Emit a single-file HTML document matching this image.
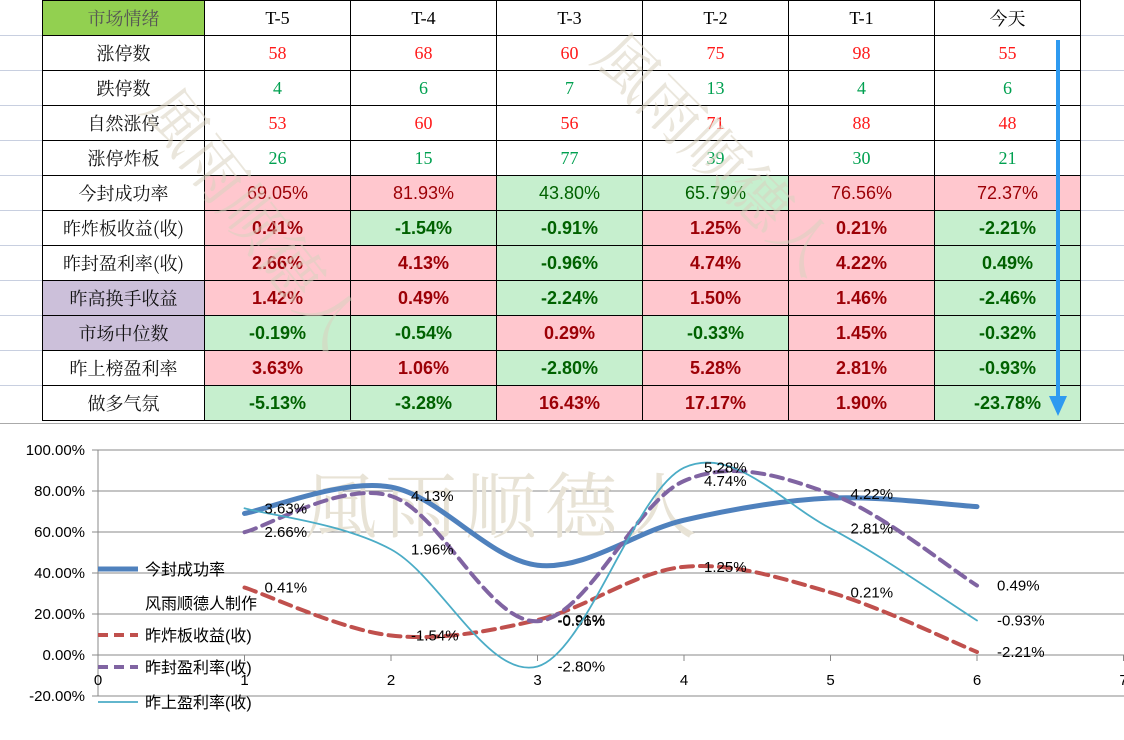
<!DOCTYPE html>
<html><head><meta charset="utf-8">
<style>
html,body{margin:0;padding:0;background:#fff;width:1124px;height:740px;overflow:hidden;position:relative;font-family:"Liberation Sans","Noto Sans CJK SC",sans-serif;}
.grid{position:absolute;left:0;top:0;width:1124px;height:425px;}
table{position:absolute;left:42px;top:0;border-collapse:collapse;table-layout:fixed;}
td{border:1px solid #000;height:34px;padding:0;text-align:center;font-size:18px;}
td.lab{width:161px;font-family:"Noto Serif CJK SC","Noto Sans CJK SC",serif;color:#111;}
td.v{width:145px;font-family:"Liberation Serif","Noto Serif CJK SC",serif;}
.r{color:#ff1a1a}.g{color:#00a050}
.p{background:#ffc7ce;color:#9c0006}.q{background:#c6efce;color:#006100}
.b{font-weight:bold;font-family:"Liberation Sans",sans-serif !important;}
.n{font-family:"Liberation Sans",sans-serif !important;}
.pur{background:#ccc0da}
</style></head><body>
<svg class="grid" width="1124" height="425">
<g stroke="#c8cfe0" stroke-width="1">
<line x1="0" y1="35.5" x2="42" y2="35.5"/><line x1="0" y1="70.5" x2="42" y2="70.5"/><line x1="0" y1="105.5" x2="42" y2="105.5"/><line x1="0" y1="140.5" x2="42" y2="140.5"/><line x1="0" y1="175.5" x2="42" y2="175.5"/><line x1="0" y1="210.5" x2="42" y2="210.5"/><line x1="0" y1="245.5" x2="42" y2="245.5"/><line x1="0" y1="280.5" x2="42" y2="280.5"/><line x1="0" y1="315.5" x2="42" y2="315.5"/><line x1="0" y1="350.5" x2="42" y2="350.5"/><line x1="0" y1="385.5" x2="42" y2="385.5"/>
<line x1="1080" y1="35.5" x2="1124" y2="35.5"/><line x1="1080" y1="70.5" x2="1124" y2="70.5"/><line x1="1080" y1="105.5" x2="1124" y2="105.5"/><line x1="1080" y1="140.5" x2="1124" y2="140.5"/><line x1="1080" y1="175.5" x2="1124" y2="175.5"/><line x1="1080" y1="210.5" x2="1124" y2="210.5"/><line x1="1080" y1="245.5" x2="1124" y2="245.5"/><line x1="1080" y1="280.5" x2="1124" y2="280.5"/><line x1="1080" y1="315.5" x2="1124" y2="315.5"/><line x1="1080" y1="350.5" x2="1124" y2="350.5"/><line x1="1080" y1="385.5" x2="1124" y2="385.5"/>
</g></svg>
<table>
<tr><td class="lab" style="background:#92d050;color:#555">市场情绪</td><td class="v">T-5</td><td class="v">T-4</td><td class="v">T-3</td><td class="v">T-2</td><td class="v">T-1</td><td class="v" style="font-family:'Noto Serif CJK SC',serif">今天</td></tr>
<tr><td class="lab">涨停数</td><td class="v r">58</td><td class="v r">68</td><td class="v r">60</td><td class="v r">75</td><td class="v r">98</td><td class="v r">55</td></tr>
<tr><td class="lab">跌停数</td><td class="v g">4</td><td class="v g">6</td><td class="v g">7</td><td class="v g">13</td><td class="v g">4</td><td class="v g">6</td></tr>
<tr><td class="lab">自然涨停</td><td class="v r">53</td><td class="v r">60</td><td class="v r">56</td><td class="v r">71</td><td class="v r">88</td><td class="v r">48</td></tr>
<tr><td class="lab">涨停炸板</td><td class="v g">26</td><td class="v g">15</td><td class="v g">77</td><td class="v g">39</td><td class="v g">30</td><td class="v g">21</td></tr>
<tr><td class="lab">今封成功率</td><td class="v p n">69.05%</td><td class="v p n">81.93%</td><td class="v q n">43.80%</td><td class="v q n">65.79%</td><td class="v p n">76.56%</td><td class="v p n">72.37%</td></tr>
<tr><td class="lab">昨炸板收益(收)</td><td class="v p b">0.41%</td><td class="v q b">-1.54%</td><td class="v q b">-0.91%</td><td class="v p b">1.25%</td><td class="v p b">0.21%</td><td class="v q b">-2.21%</td></tr>
<tr><td class="lab">昨封盈利率(收)</td><td class="v p b">2.66%</td><td class="v p b">4.13%</td><td class="v q b">-0.96%</td><td class="v p b">4.74%</td><td class="v p b">4.22%</td><td class="v q b">0.49%</td></tr>
<tr><td class="lab pur">昨高换手收益</td><td class="v p b">1.42%</td><td class="v p b">0.49%</td><td class="v q b">-2.24%</td><td class="v p b">1.50%</td><td class="v p b">1.46%</td><td class="v q b">-2.46%</td></tr>
<tr><td class="lab pur">市场中位数</td><td class="v q b">-0.19%</td><td class="v q b">-0.54%</td><td class="v p b">0.29%</td><td class="v q b">-0.33%</td><td class="v p b">1.45%</td><td class="v q b">-0.32%</td></tr>
<tr><td class="lab">昨上榜盈利率</td><td class="v p b">3.63%</td><td class="v p b">1.06%</td><td class="v q b">-2.80%</td><td class="v p b">5.28%</td><td class="v p b">2.81%</td><td class="v q b">-0.93%</td></tr>
<tr><td class="lab">做多气氛</td><td class="v q b">-5.13%</td><td class="v q b">-3.28%</td><td class="v p b">16.43%</td><td class="v p b">17.17%</td><td class="v p b">1.90%</td><td class="v q b">-23.78%</td></tr>
</table>
<svg style="position:absolute;left:0;top:0" width="1124" height="425">
<text x="140" y="110" transform="rotate(52 140 110)" font-size="62" fill="#d8d2c0" fill-opacity="0.55" font-family="Noto Serif CJK SC,serif">風雨顺德人</text>
<text x="590" y="60" transform="rotate(45 590 60)" font-size="62" fill="#d8d2c0" fill-opacity="0.55" font-family="Noto Serif CJK SC,serif">風雨顺德人</text>
<line x1="1058" y1="40" x2="1058" y2="398" stroke="#2e9af0" stroke-width="4"/>
<polygon points="1049,396 1067,396 1058,416" fill="#2e9af0"/>
</svg>
<svg id="chart" style="position:absolute;left:0;top:0" width="1124" height="740"></svg>
<script>
const xTicks=[0,1,2,3,4,5,6,7];
const yTicks=[-20,0,20,40,60,80,100];
const sealRate=[69.05,81.93,43.80,65.79,76.56,72.37];
const brokenReturn=[0.41,-1.54,-0.91,1.25,0.21,-2.21];
const sealedProfit=[2.66,4.13,-0.96,4.74,4.22,0.49];
const listProfit=[3.63,1.96,-2.80,5.28,2.81,-0.93];
const NS='http://www.w3.org/2000/svg';
const svg=document.getElementById('chart');
const X=v=>98+v*146.5, Y=v=>655-v*2.05, S=v=>v*12+28;
function mk(t,a,p){const e=document.createElementNS(NS,t);for(const k in a)e.setAttribute(k,a[k]);(p||svg).appendChild(e);return e;}
mk('rect',{x:0,y:424,width:1124,height:316,fill:'#fff'});
mk('line',{x1:0,y1:423.5,x2:1124,y2:423.5,stroke:'#aaa'});
yTicks.forEach(t=>{mk('line',{x1:92,x2:1124,y1:Y(t),y2:Y(t),stroke:'#888','stroke-width':1});
const tx=mk('text',{x:85,y:Y(t)+5,'text-anchor':'end','font-size':15,fill:'#000'});tx.textContent=t.toFixed(2)+'%';

});
mk('line',{x1:98,x2:98,y1:Y(100),y2:Y(-20),stroke:'#888'});
xTicks.forEach(t=>{mk('line',{x1:X(t),x2:X(t),y1:Y(0),y2:Y(0)+6,stroke:'#888'});
const tx=mk('text',{x:X(t),y:685,'text-anchor':'middle','font-size':15});tx.textContent=t;

});
const wm=mk('text',{x:305,y:532,'font-size':72,fill:'#e8e3d6','font-family':'Noto Serif CJK SC,serif','letter-spacing':'8'});wm.textContent='風雨顺德人';


function path(vals){const p=vals.map((v,i)=>[X(i+1),Y(v)]);let d='M'+p[0];
for(let i=0;i<p.length-1;i++){const p0=p[i-1]||p[i],p1=p[i],p2=p[i+1],p3=p[i+2]||p2;const k=6;
d+=` C${p1[0]+(p2[0]-p0[0])/k},${p1[1]+(p2[1]-p0[1])/k} ${p2[0]-(p3[0]-p1[0])/k},${p2[1]-(p3[1]-p1[1])/k} ${p2[0]},${p2[1]}`;}return d;}
const series=[
{name:'seal-rate-line',vals:sealRate,plot:sealRate,c:'#4f81bd',w:5,dash:''},
{name:'broken-return-line',vals:brokenReturn,plot:brokenReturn.map(S),c:'#c0504d',w:4,dash:'12,7',lab:true},
{name:'sealed-profit-line',vals:sealedProfit,plot:sealedProfit.map(S),c:'#8064a2',w:4,dash:'12,7',lab:true},
{name:'list-profit-line',vals:listProfit,plot:listProfit.map(S),c:'#4bacc6',w:1.8,dash:'',lab:true}];
series.forEach(s=>{const e=mk('path',{d:path(s.plot),fill:'none',stroke:s.c,'stroke-width':s.w,'stroke-dasharray':s.dash,'stroke-linecap':'round'});


if(s.lab)s.vals.forEach((v,i)=>{const t=mk('text',{x:X(i+1)+20,y:Y(s.plot[i])+5,'font-size':15});t.textContent=v.toFixed(2)+'%';

});});
const leg=[['今封成功率','#4f81bd',5,'',569],['风雨顺德人制作',null,0,'',603],['昨炸板收益(收)','#c0504d',4,'10,6',635],['昨封盈利率(收)','#8064a2',4,'10,6',667],['昨上盈利率(收)','#4bacc6',1.8,'',702]];
leg.forEach(l=>{if(l[1])mk('line',{x1:98,x2:138,y1:l[4],y2:l[4],stroke:l[1],'stroke-width':l[2],'stroke-dasharray':l[3]});
const t=mk('text',{x:145,y:l[4]+6,'font-size':16});t.textContent=l[0];

});
</script>
</body></html>
